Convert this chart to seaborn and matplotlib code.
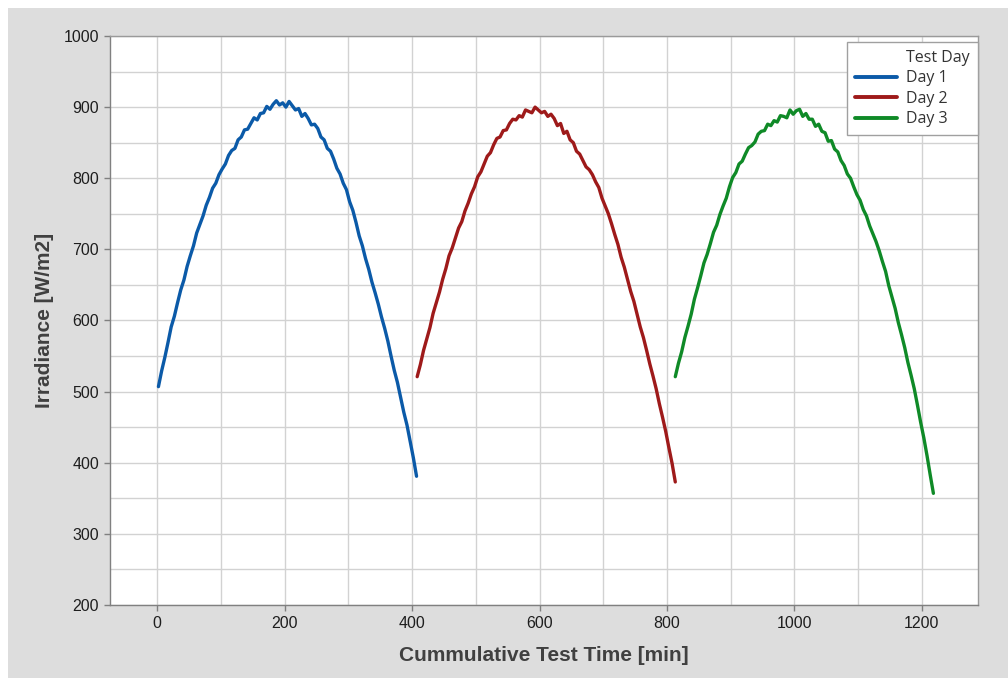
import numpy as np
import pandas as pd
import matplotlib
matplotlib.use("Agg")
import matplotlib.pyplot as plt
from matplotlib.patches import Rectangle
from matplotlib.lines import Line2D
from matplotlib.ticker import MultipleLocator
import seaborn as sns

# irradiance readings, one value every 5 min
day1_start = 2
day1_irr = [507, 529, 548, 569, 591, 606, 625, 643, 657, 676, 691, 705, 723, 735, 747, 762,
            773, 786, 793, 805, 813, 820, 832, 839, 842, 854, 858, 868, 869, 877, 885, 882,
            891, 892, 901, 897, 904, 909, 903, 906, 900, 908, 902, 896, 898, 887, 891, 884,
            875, 876, 870, 858, 854, 842, 838, 827, 814, 806, 793, 784, 767, 755, 738, 719,
            705, 687, 672, 654, 639, 623, 605, 589, 571, 550, 530, 513, 492, 471, 453, 430,
            407, 381]

day2_start = 408
day2_irr = [521, 538, 558, 574, 590, 610, 625, 640, 658, 673, 691, 702, 716, 730, 739, 754,
            765, 778, 788, 802, 809, 820, 831, 836, 847, 856, 858, 867, 868, 877, 883, 882,
            888, 886, 896, 894, 892, 900, 896, 892, 894, 887, 890, 884, 874, 877, 863, 866,
            854, 850, 838, 834, 825, 816, 812, 805, 795, 787, 772, 761, 750, 736, 721, 707,
            689, 675, 658, 641, 627, 609, 591, 576, 558, 539, 522, 504, 483, 464, 444, 421,
            399, 373]

day3_start = 813
day3_irr = [521, 540, 556, 576, 592, 609, 630, 646, 663, 681, 693, 708, 724, 734, 749, 761,
            772, 788, 801, 808, 820, 824, 834, 843, 846, 851, 862, 866, 867, 876, 874, 881,
            879, 888, 887, 885, 896, 890, 895, 897, 887, 891, 883, 883, 873, 876, 866, 864,
            852, 853, 841, 837, 825, 818, 806, 800, 788, 777, 769, 756, 747, 733, 722, 711,
            698, 683, 669, 649, 633, 617, 597, 580, 562, 541, 523, 504, 481, 457, 435, 410,
            383, 357]

step_min = 5
day_names = ["Day 1", "Day 2", "Day 3"]
colors = {"Day 1": "#0b5aa8", "Day 2": "#9e1a1a", "Day 3": "#0f8a27"}

frames = []
for name, start, vals in zip(day_names, [day1_start, day2_start, day3_start],
                             [day1_irr, day2_irr, day3_irr]):
    t = start + step_min * np.arange(len(vals))
    frames.append(pd.DataFrame({"Time": t, "Irradiance": vals, "Test Day": name}))
df = pd.concat(frames, ignore_index=True)

sns.set_theme(style="whitegrid")
plt.rcParams["font.family"] = ["Liberation Sans", "DejaVu Sans"]

fig = plt.figure(figsize=(10.08, 6.78), dpi=100, facecolor="#dddddd")
# white strips at the left and top edge
fig.patches.append(Rectangle((0, 0), 8 / 1008, 1, transform=fig.transFigure,
                             facecolor="white", edgecolor="none", zorder=-1))
fig.patches.append(Rectangle((0, 1 - 8 / 678), 1, 8 / 678, transform=fig.transFigure,
                             facecolor="white", edgecolor="none", zorder=-1))

ax = fig.add_axes([110 / 1008, 1 - 605 / 678, 868 / 1008, 569 / 678])
ax.set_facecolor("white")

sns.lineplot(data=df, x="Time", y="Irradiance", hue="Test Day", palette=colors,
             estimator=None, linewidth=2.4, legend=False, ax=ax)

ax.set_xlim(-74, 1288)
ax.set_ylim(200, 1000)
ax.xaxis.set_major_locator(MultipleLocator(200))
ax.xaxis.set_minor_locator(MultipleLocator(100))
ax.yaxis.set_major_locator(MultipleLocator(100))
ax.yaxis.set_minor_locator(MultipleLocator(50))
ax.grid(True, which="both", color="#d2d2d2", linewidth=1)
ax.set_axisbelow(True)

ax.tick_params(which="major", length=4, width=1, color="#808080", pad=4,
               labelsize=11.5, labelcolor="#1e1e1e", left=True, bottom=True)
ax.tick_params(which="minor", length=0)

for side, sp in ax.spines.items():
    sp.set_color("#9a9a9a" if side in ("top", "right") else "#808080")
    sp.set_linewidth(1)

ax.set_xlabel("Cummulative Test Time [min]", fontsize=15, fontweight="bold", color="#404040")
ax.set_ylabel("Irradiance [W/m2]", fontsize=15, fontweight="bold", color="#404040")
ax.xaxis.set_label_coords(0.5, -0.072)
ax.yaxis.set_label_coords(-0.065, 0.5)

handles = [Line2D([], [], color="none")] + [Line2D([], [], color=colors[n], linewidth=2.8)
                                            for n in day_names]
labels = ["Test Day"] + day_names
leg = ax.legend(handles, labels, loc="upper right", bbox_to_anchor=(1.0, 1 - 6 / 569),
                borderaxespad=0, fancybox=False, framealpha=1, edgecolor="#a0a0a0",
                handlelength=2.6, handletextpad=0.6, labelspacing=0.28, borderpad=0.5,
                prop={"family": ["Open Sans", "DejaVu Sans"], "size": 11.5})
leg.get_frame().set_linewidth(1)
for txt in leg.get_texts():
    txt.set_color("#333333")

fig.savefig("out.png", dpi=100, facecolor=fig.get_facecolor())
